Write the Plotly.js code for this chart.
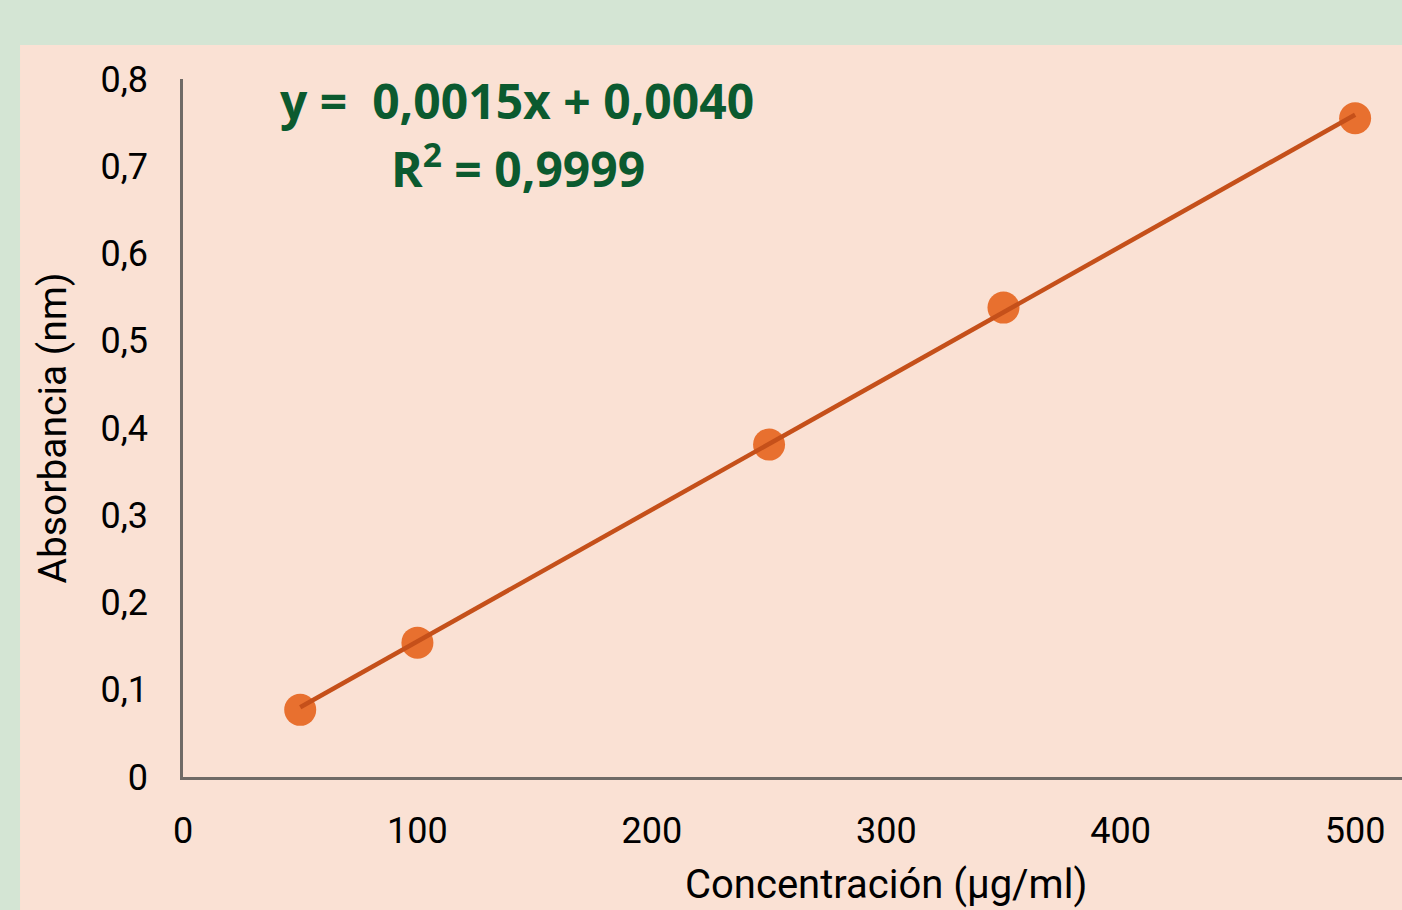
<!DOCTYPE html>
<html>
<head>
<meta charset="utf-8">
<script src="https://cdn.plot.ly/plotly-3.0.1.min.js"></script>
<style>html,body{margin:0;padding:0;background:#d4e5d4;}#chart{width:1402px;height:910px;}</style>
</head>
<body>
<div id="chart"></div>
<script>
// Data
const concentration = [50, 100, 250, 350, 500];
const absorbance = [0.077, 0.154, 0.381, 0.538, 0.755];
const trendX = [50, 500];
const trendY = [0.080, 0.759];
const xTicks = [0, 100, 200, 300, 400, 500];
const yTicks = [0, 0.1, 0.2, 0.3, 0.4, 0.5, 0.6, 0.7, 0.8];
const yTickText = ["0", "0,1", "0,2", "0,3", "0,4", "0,5", "0,6", "0,7", "0,8"];
const equationText = "y =  0,0015x + 0,0040";
const r2Text = "R<sup>2</sup> = 0,9999";
const xTitle = "Concentración (μg/ml)";
const yTitle = "Absorbancia (nm)";

const traces = [
  {
    x: concentration, y: absorbance, type: 'scatter', mode: 'markers',
    marker: {size: 32, color: '#e8702f'}, hoverinfo: 'x+y', showlegend: false
  },
  {
    x: trendX, y: trendY, type: 'scatter', mode: 'lines',
    line: {color: '#c5501a', width: 4.5}, hoverinfo: 'skip', showlegend: false
  }
];

const tickFont = {family: 'Roboto, sans-serif', size: 36, color: '#000000'};

const layout = {
  width: 1402, height: 910,
  margin: {l: 183, r: 0, t: 79, b: 133},
  paper_bgcolor: '#d4e5d4',
  plot_bgcolor: 'rgba(0,0,0,0)',
  xaxis: {
    range: [0, 520], tickvals: xTicks, ticktext: xTicks.map(String),
    showgrid: false, zeroline: false, showline: true, linecolor: '#6f6a66', linewidth: 2.5,
    ticks: '', tickfont: tickFont, ticklabelstandoff: 20, fixedrange: true
  },
  yaxis: {
    range: [0, 0.8], tickvals: yTicks, ticktext: yTickText,
    showgrid: false, zeroline: false, showline: true, linecolor: '#6f6a66', linewidth: 2.5,
    ticks: '', tickfont: tickFont, ticklabelstandoff: 25, fixedrange: true,
    title: {text: yTitle, font: {family: 'Roboto, sans-serif', size: 39, color: '#000000'}, standoff: 22}
  },
  shapes: [
    {type: 'rect', xref: 'paper', yref: 'paper', x0: -0.1337, x1: 1.05, y0: -0.25, y1: 1.0487,
     fillcolor: '#fae1d4', line: {width: 0}, layer: 'below'}
  ],
  annotations: [
    {xref: 'paper', yref: 'paper', x: (517 - 183) / 1219, y: (777 - 100) / 698, xanchor: 'center', yanchor: 'middle',
     text: '<b>' + equationText + '</b>', showarrow: false,
     font: {family: 'Open Sans, sans-serif', size: 48, color: '#0b5a2f'}},
    {xref: 'paper', yref: 'paper', x: (518 - 183) / 1219, y: (777 - 166) / 698, xanchor: 'center', yanchor: 'middle',
     text: '<b>' + r2Text + '</b>', showarrow: false,
     font: {family: 'Open Sans, sans-serif', size: 48, color: '#0b5a2f'}},
    {xref: 'paper', yref: 'paper', x: (886 - 183) / 1219, y: (777 - 884) / 698, xanchor: 'center', yanchor: 'middle',
     text: xTitle, showarrow: false,
     font: {family: 'Roboto, sans-serif', size: 40, color: '#000000'}}
  ]
};

Plotly.newPlot('chart', traces, layout, {displayModeBar: false});
</script>
</body>
</html>
